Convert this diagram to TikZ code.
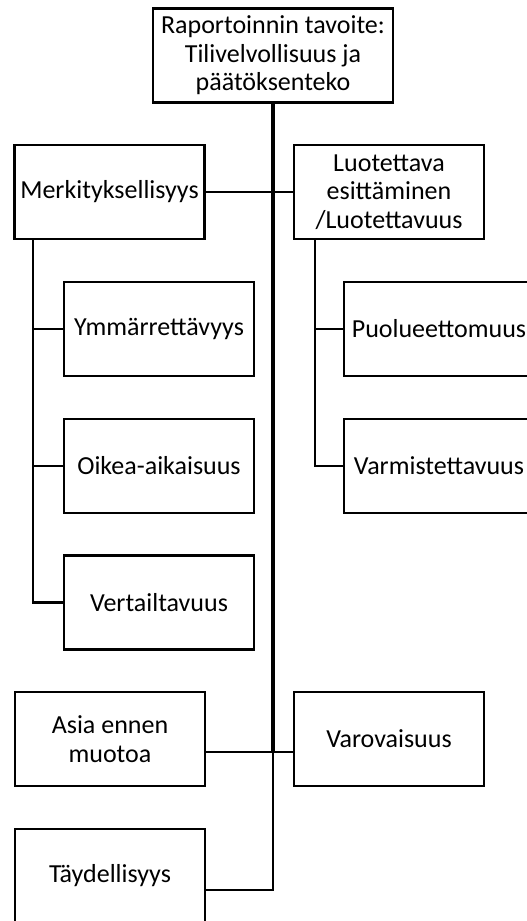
\documentclass[tikz,border=0pt]{standalone}
\usepackage{fontspec}
\setmainfont{Carlito}
\begin{document}
\begin{tikzpicture}[x=1pt,y=-1pt,
  box/.style={draw=black,line width=2.2pt,fill=white,align=center,inner sep=2pt,
    minimum width=190pt,minimum height=94pt,font=\fontsize{26pt}{28.5pt}\selectfont},
  conn/.style={line width=2.2pt},
  trunk/.style={line width=4.2pt}]
\useasboundingbox (0,0) rectangle (527,921);
\clip (0,0) rectangle (527,921);
\node[box,minimum width=240pt] (top) at (273,55.5) {Raportoinnin tavoite:\\Tilivelvollisuus ja\\päätöksenteko};
\node[box] (merk) at (109.5,192) {Merkityksellisyys};
\node[box] (luot) at (389,192) {Luotettava\\esittäminen\\/Luotettavuus};
\node[box] (ymm) at (159,329) {Ymmärrettävyys};
\node[box] (oik) at (159,466) {Oikea-aikaisuus};
\node[box] (ver) at (159,602.5) {Vertailtavuus};
\node[box] (puo) at (439,329) {Puolueettomuus};
\node[box] (var) at (439,466) {Varmistettavuus};
\node[box] (asia) at (110,739) {Asia ennen\\muotoa};
\node[box] (varo) at (389,739) {Varovaisuus};
\node[box] (tay) at (110,876) {Täydellisyys};
\coordinate (j1) at (276,752);
\coordinate (j2) at (276,890);
\coordinate (lb) at (33,0);
\coordinate (rb) at (315,0);
% trunk
\draw[trunk] (top.south) -- (top.south |- j1);
\draw[conn] (top.south |- j1) -- (top.south |- j2) -- (tay.east |- j2);
\draw[conn] (merk.east) -- (luot.west);
\draw[conn] (asia.east |- j1) -- (varo.west |- j1);
% left branch
\draw[conn] (merk.south -| lb) -- (ver.west -| lb) -- (ver.west);
\draw[conn] (ymm.west -| lb) -- (ymm.west);
\draw[conn] (oik.west -| lb) -- (oik.west);
% right branch
\draw[conn] (luot.south -| rb) -- (var.west -| rb) -- (var.west);
\draw[conn] (puo.west -| rb) -- (puo.west);
\end{tikzpicture}
\end{document}
